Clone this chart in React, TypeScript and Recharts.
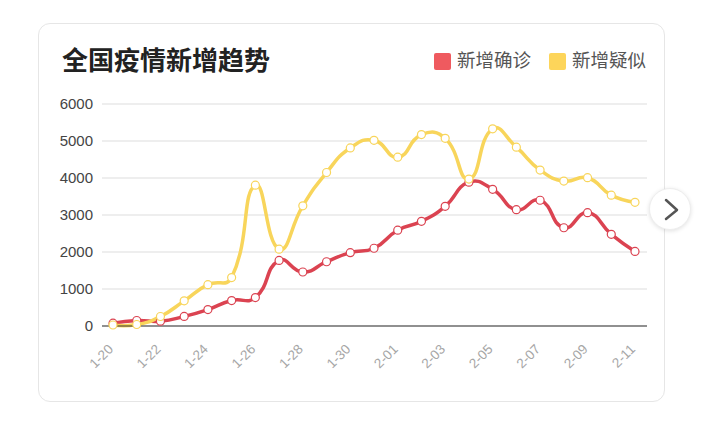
import { LineChart, Line, XAxis, YAxis, CartesianGrid } from 'recharts';

const dates = [
    '1-20', '1-21', '1-22', '1-23', '1-24', '1-25', '1-26', '1-27', '1-28', '1-29', '1-30', '1-31',
    '2-01', '2-02', '2-03', '2-04', '2-05', '2-06', '2-07', '2-08', '2-09', '2-10', '2-11',
];
const confirmed = [
    77, 149, 131, 259, 444, 688, 769, 1771, 1459, 1737, 1982, 2102,
    2590, 2829, 3235, 3887, 3694, 3143, 3399, 2656, 3062, 2478, 2015,
];
const suspected = [
    27, 40, 257, 680, 1118, 1309, 3806, 2077, 3248, 4148, 4812, 5019,
    4562, 5173, 5072, 3971, 5328, 4833, 4214, 3916, 4008, 3536, 3342,
];
const yTicks = [0, 1000, 2000, 3000, 4000, 5000, 6000];

const data = dates.map((d, i) => ({ date: d, confirmed: confirmed[i], suspected: suspected[i] }));

const RED = '#db4351';
const YELLOW = '#f8d55b';
const FONT = "Helvetica, Arial, 'Liberation Sans', 'Noto Sans CJK SC', sans-serif";

// smooth curve similar to echarts "smooth: true" (0.5)
function smoothCurve(context: any) {
    let pts: [number, number][] = [];
    const smooth = 0.5;
    return {
        areaStart() {},
        areaEnd() {},
        lineStart() {
            pts = [];
        },
        point(x: number, y: number) {
            pts.push([+x, +y]);
        },
        lineEnd() {
            const n = pts.length;
            if (!n) return;
            const cps: [number, number][] = [];
            for (let i = 0; i < n; i++) {
                if (i === 0 || i === n - 1) {
                    cps.push(pts[i]);
                    continue;
                }
                const [px, py] = pts[i - 1];
                const [x, y] = pts[i];
                const [nx, ny] = pts[i + 1];
                const vx = (nx - px) * smooth;
                const vy = (ny - py) * smooth;
                let d0 = Math.hypot(x - px, y - py);
                let d1 = Math.hypot(nx - x, ny - y);
                const sum = d0 + d1;
                if (sum) {
                    d0 /= sum;
                    d1 /= sum;
                }
                cps.push([x - vx * d0, y - vy * d0]);
                cps.push([x + vx * d1, y + vy * d1]);
            }
            context.moveTo(pts[0][0], pts[0][1]);
            for (let i = 1; i < n; i++) {
                const c0 = cps[2 * (i - 1)];
                const c1 = cps[2 * (i - 1) + 1];
                context.bezierCurveTo(c0[0], c0[1], c1[0], c1[1], pts[i][0], pts[i][1]);
            }
        },
    };
}

const DateTick = ({ x, y, payload }: any) => {
    const tx = x + 1;
    const ty = y + 16;
    return (
        <text x={tx} y={ty} transform={`rotate(-45 ${tx} ${ty})`} textAnchor="end" fill="#a6a6a6" fontSize={13.5} fontFamily={FONT}>
            {payload.value}
        </text>
    );
};

const LegendItem = ({ color, label }: { color: string; label: string }) => (
    <div style={{ display: 'flex', alignItems: 'center', marginLeft: 18 }}>
        <span style={{ width: 17, height: 17, borderRadius: 2, background: color, display: 'inline-block', marginRight: 6 }} />
        <span style={{ fontSize: 18.5, color: '#555' }}>{label}</span>
    </div>
);

export default function App() {
    return (
        <div style={{ position: 'absolute', left: 0, top: 0, width: 704, height: 422, background: '#fff', fontFamily: FONT, overflow: 'hidden' }}>
            <div
                style={{
                    position: 'absolute',
                    left: 38,
                    top: 23,
                    width: 627,
                    height: 379,
                    border: '1px solid #e6e6e6',
                    borderRadius: 12,
                    boxSizing: 'border-box',
                }}
            />
            <div style={{ position: 'absolute', left: 62, top: 44, fontSize: 26, fontWeight: 'bold', color: '#222', lineHeight: '34px' }}>
                全国疫情新增趋势
            </div>
            <div style={{ position: 'absolute', right: 58, top: 48, display: 'flex', lineHeight: '26px' }}>
                <LegendItem color="#ef5a5f" label="新增确诊" />
                <LegendItem color="#fdd55a" label="新增疑似" />
            </div>
            <div style={{ position: 'absolute', left: 40, top: 90 }}>
                <LineChart width={620} height={310} data={data} margin={{ top: 14, right: 13, bottom: 0, left: 0 }}>
                    <CartesianGrid horizontal vertical={false} stroke="#ddd" />
                    <XAxis
                        dataKey="date"
                        interval={1}
                        height={74}
                        padding={{ left: 11, right: 12 }}
                        tickLine={false}
                        axisLine={{ stroke: '#333' }}
                        tick={<DateTick />}
                    />
                    <YAxis
                        width={62}
                        domain={[0, 6000]}
                        ticks={yTicks}
                        tickLine={false}
                        axisLine={false}
                        tickMargin={3}
                        tick={{ fill: '#444', fontSize: 15, fontFamily: FONT }}
                    />
                    <Line
                        dataKey="confirmed"
                        type={smoothCurve as any}
                        stroke={RED}
                        strokeWidth={3.5}
                        dot={{ r: 4, fill: '#fff', stroke: RED, strokeWidth: 1.2 }}
                        isAnimationActive={false}
                    />
                    <Line
                        dataKey="suspected"
                        type={smoothCurve as any}
                        stroke={YELLOW}
                        strokeWidth={3.5}
                        dot={{ r: 4, fill: '#fff', stroke: YELLOW, strokeWidth: 1.2 }}
                        isAnimationActive={false}
                    />
                </LineChart>
            </div>
            <div
                style={{
                    position: 'absolute',
                    left: 649,
                    top: 188,
                    width: 42,
                    height: 42,
                    borderRadius: '50%',
                    background: '#fff',
                    border: '1px solid #eee',
                    boxSizing: 'border-box',
                    boxShadow: '0 1px 4px rgba(0,0,0,0.12)',
                }}
            >
                <svg width={40} height={40} style={{ position: 'absolute', left: 0, top: 0 }}>
                    <polyline points="16,11 27,21 16,30" fill="none" stroke="#555" strokeWidth={2.5} strokeLinecap="round" strokeLinejoin="round" />
                </svg>
            </div>
        </div>
    );
}
